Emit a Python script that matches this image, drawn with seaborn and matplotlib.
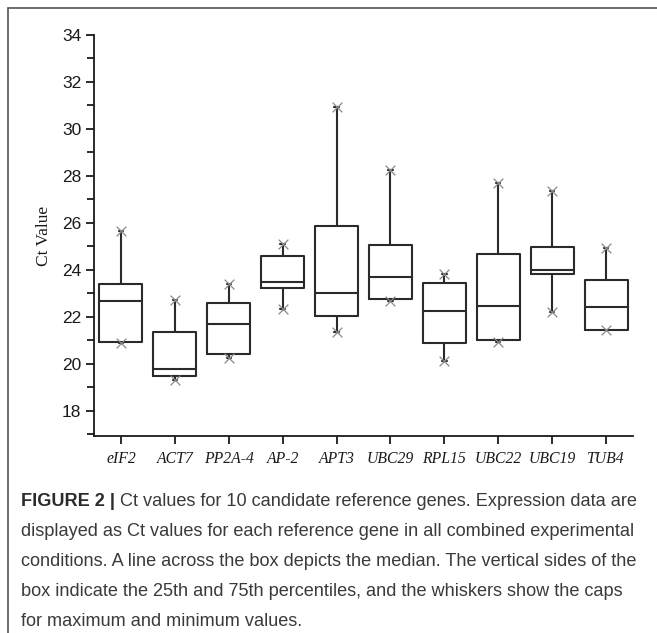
import matplotlib
matplotlib.use("Agg")
import matplotlib.pyplot as plt
from matplotlib.ticker import MultipleLocator
from matplotlib.lines import Line2D
import seaborn as sns
import pandas as pd

genes = ["eIF2", "ACT7", "PP2A-4", "AP-2", "APT3", "UBC29", "RPL15", "UBC22", "UBC19", "TUB4"]
ct_min = [20.90, 19.32, 20.27, 22.33, 21.37, 22.69, 20.13, 20.95, 22.20, 21.43]
ct_q1 = [20.94, 19.49, 20.44, 23.23, 22.03, 22.77, 20.87, 21.01, 23.82, 21.43]
ct_median = [22.68, 19.77, 21.71, 23.50, 23.00, 23.69, 22.26, 22.48, 23.99, 22.44]
ct_q3 = [23.39, 21.36, 22.60, 24.61, 25.89, 25.08, 23.43, 24.67, 24.98, 23.57]
ct_max = [25.67, 22.71, 23.39, 25.12, 30.92, 28.26, 23.84, 27.70, 27.36, 24.95]
y_ticks = [18, 20, 22, 24, 26, 28, 30, 32, 34]

caption = [
    "Ct values for 10 candidate reference genes. Expression data are",
    "displayed as Ct values for each reference gene in all combined experimental",
    "conditions. A line across the box depicts the median. The vertical sides of the",
    "box indicate the 25th and 75th percentiles, and the whiskers show the caps",
    "for maximum and minimum values.",
]

rows = []
for i, g in enumerate(genes):
    for v in (ct_min[i], ct_q1[i], ct_median[i], ct_q3[i], ct_max[i]):
        rows.append({"gene": g, "ct": v})
df = pd.DataFrame(rows)
ext = pd.DataFrame({"gene": genes + genes, "ct": ct_min + ct_max})

sns.set_style("ticks")
fig = plt.figure(figsize=(6.57, 6.33), dpi=100)
ax = fig.add_axes([0.143, 0.3112, 0.8205, 0.6335])

line_c = "#2a2a2a"
sns.boxplot(data=df, x="gene", y="ct", order=genes, whis=(0, 100), fill=False,
            color=line_c, linecolor=line_c, linewidth=1.5, width=0.8,
            capwidths=0.08, showfliers=False, ax=ax)
sns.stripplot(data=ext, x="gene", y="ct", order=genes, jitter=False, marker="x",
              color="#8a8a8a", size=7, linewidth=0.9, ax=ax, zorder=5)

ax.set_xlim(-0.5, 9.5)
ax.set_ylim(16.93, 34)
ax.set_yticks(y_ticks)
ax.yaxis.set_minor_locator(MultipleLocator(1))
for s in ("top", "right"):
    ax.spines[s].set_visible(False)
for s in ("left", "bottom"):
    ax.spines[s].set_linewidth(1.3)
    ax.spines[s].set_color("#1a1a1a")
ax.tick_params(axis="y", which="major", length=6, width=1.3, color="#1a1a1a",
               labelsize=12.5, labelcolor="#1a1a1a", pad=3)
ax.tick_params(axis="y", which="minor", length=5, width=1.3, color="#1a1a1a")
ax.tick_params(axis="x", which="major", length=6, width=1.3, color="#1a1a1a", pad=5)
for t in ax.get_yticklabels():
    t.set_fontfamily("Liberation Sans")
ax.set_xticks(range(len(genes)))
ax.set_xticklabels(genes, fontfamily="Liberation Serif", fontstyle="italic",
                   fontsize=11.3, color="#1a1a1a")
ax.set_xlabel("")
ax.set_ylabel("Ct Value", fontfamily="Liberation Serif", fontsize=12.5,
              color="#1a1a1a", labelpad=7)

# caption
x0 = 21 / 657
ys = [501, 531, 561, 591, 621]
cap_font = "Liberation Sans"
fs = 13.1
t = fig.text(x0, 1 - ys[0] / 633, "FIGURE 2 | ", fontfamily=cap_font, fontweight="bold",
             fontsize=fs, color="#2b2b2b", va="center")
fig.canvas.draw()
bb = t.get_window_extent()
fig.text(bb.x1 / fig.bbox.width, 1 - ys[0] / 633, caption[0], fontfamily=cap_font,
         fontsize=fs, color="#3a3a3a", va="center")
for line, yy in zip(caption[1:], ys[1:]):
    fig.text(x0, 1 - yy / 633, line, fontfamily=cap_font, fontsize=fs,
             color="#3a3a3a", va="center")

# outer frame (top and left edges)
fig.add_artist(Line2D([8 / 657, 8 / 657], [0, 1 - 8 / 633], transform=fig.transFigure,
                      color="#555555", linewidth=1.2))
fig.add_artist(Line2D([8 / 657, 1], [1 - 8 / 633, 1 - 8 / 633], transform=fig.transFigure,
                      color="#555555", linewidth=1.2))

fig.savefig("out.png", dpi=100)
